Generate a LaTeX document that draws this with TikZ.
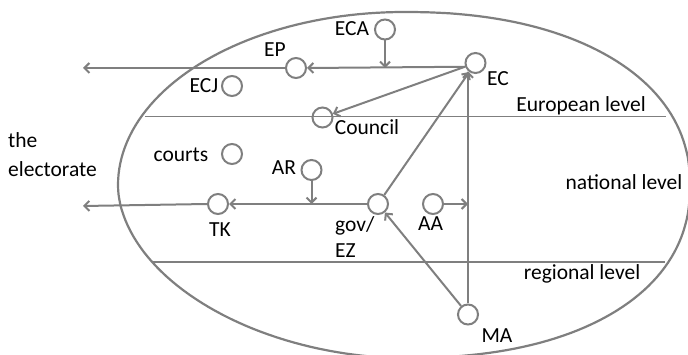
\documentclass[tikz,border=0pt]{standalone}
\usepackage{fontspec}
\setmainfont{Carlito}
\usetikzlibrary{arrows.meta}
\definecolor{linegray}{RGB}{127,127,127}
\begin{document}
\begin{tikzpicture}[x=1pt,y=-1pt,
  font=\fontsize{21.5}{28}\selectfont,
  actor/.style={circle,draw=linegray,line width=2pt,minimum size=20pt,inner sep=0pt},
  lbl/.style={inner sep=0pt,anchor=base,text=black},
  arr/.style={draw=linegray,line width=2pt,-{Straight Barb[length=5pt,width=10pt]}},
  levelline/.style={draw=linegray,line width=1.2pt},
  boundary/.style={draw=linegray,line width=2.2pt}]
\useasboundingbox (0,0) rectangle (688,355);

% outer boundary: an oval built from four superellipse quarters
% centre (404,185), half axes 286 x 173, exponent chosen per quarter
\draw[boundary]
  plot[domain=0:90,samples=50,variable=\t]
    ({404+286*pow(max(abs(cos(\t)),0.00001),2/2.2)},
     {185-173*pow(max(abs(sin(\t)),0.00001),2/2.2)})
  -- plot[domain=90:180,samples=50,variable=\t]
    ({404-286*pow(max(abs(cos(\t)),0.00001),2/2.0)},
     {185-173*pow(max(abs(sin(\t)),0.00001),2/2.0)})
  -- plot[domain=180:270,samples=50,variable=\t]
    ({404-286*pow(max(abs(cos(\t)),0.00001),2/1.9)},
     {185+173*pow(max(abs(sin(\t)),0.00001),2/1.9)})
  -- plot[domain=270:360,samples=50,variable=\t]
    ({404+286*pow(max(abs(cos(\t)),0.00001),2/2.25)},
     {185+173*pow(max(abs(sin(\t)),0.00001),2/2.25)})
  -- cycle;

% level separators
\draw[levelline] (145,116.5) -- (666,116.5);
\draw[levelline] (152,262) -- (665,262);

% actors
\node[actor] (ECA) at (385,29.5) {};
\node[actor] (EP) at (296,68) {};
\node[actor] (ECJ) at (232,86) {};
\node[actor] (EC) at (475.5,63) {};
\node[actor] (Council) at (322.5,117.5) {};
\node[actor] (courts) at (232,154) {};
\node[actor] (AR) at (311.5,170) {};
\node[actor] (TK) at (218,204) {};
\node[actor] (gov) at (378,204) {};
\node[actor] (AA) at (433,204) {};
\node[actor] (MA) at (468,314.5) {};

% free ends of the outward arrows
\coordinate (outEU) at (83,68);
\coordinate (outNL) at (83,206);

% labels
\node[lbl] (tECA) at (352,36) {ECA};
\node[lbl] (tEP) at (275,57) {EP};
\node[lbl] (tECJ) at (204,93) {ECJ};
\node[lbl] (tEC) at (498,86) {EC};
\node[lbl] (tEU) at (581,112) {European level};
\node[lbl] (tCouncil) at (367,135) {Council};
\node[lbl] (tcourts) at (181,162) {courts};
\node[lbl] (tAR) at (284,175) {AR};
\node[lbl] (tTK) at (220,237) {TK};
\node[lbl,anchor=base west] (tgov) at (335,232) {gov/};
\node[lbl,anchor=base west] (tEZ) at (335,258) {EZ};
\node[lbl] (tAA) at (430.5,231) {AA};
\node[lbl] (tNL) at (624,190) {national level};
\node[lbl] (tRL) at (582,280) {regional level};
\node[lbl] (tMA) at (497,342) {MA};
\node[lbl,anchor=base west] (tthe) at (8,148) {the};
\node[lbl,anchor=base west] (telect) at (8,177) {electorate};

% European level relations
\draw[arr] (EC.200) -- (EP.east);
\draw[arr] (ECA.south) -- (ECA.south |- EP.east);
\draw[arr] (EP.west) -- (outEU);
\draw[arr] (EC) -- (Council);

% national level relations
\draw[arr] (gov) -- (EC);
\draw[arr] (MA.north) -- (MA.north |- EC.230);
\draw[arr] (MA) -- (gov);
\draw[arr] (AA.east) -- (MA.north |- AA.east);
\draw[arr] (gov.west) -- (TK.east);
\draw[arr] (AR.south) -- (AR.south |- TK.east);
\draw[arr] (TK.west) -- (outNL);
\end{tikzpicture}
\end{document}
